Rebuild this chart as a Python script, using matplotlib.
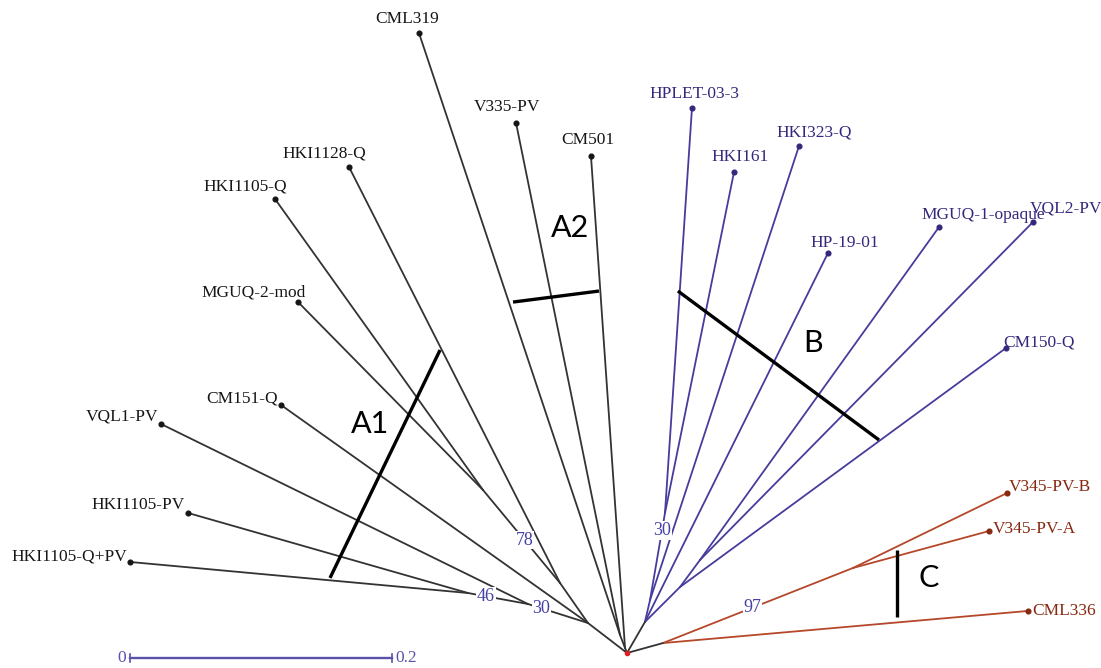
import matplotlib
matplotlib.use("Agg")
import matplotlib.pyplot as plt

# ---- tree data (coordinates in branch-length units, root at origin) ----
leaf_names = ["CML319", "V335-PV", "CM501", "HKI1128-Q", "HKI1105-Q", "MGUQ-2-mod",
              "CM151-Q", "VQL1-PV", "HKI1105-PV", "HKI1105-Q+PV",
              "HPLET-03-3", "HKI161", "HKI323-Q", "HP-19-01", "MGUQ-1-opaque", "VQL2-PV", "CM150-Q",
              "V345-PV-B", "V345-PV-A", "CML336"]
leaf_x = [-0.1588, -0.0847, -0.0275, -0.2122, -0.2687, -0.2511,
          -0.2641, -0.3557, -0.3351, -0.3794,
          0.0496, 0.0817, 0.1313, 0.1534, 0.2382, 0.3099, 0.2893,
          0.2901, 0.2763, 0.3061]
leaf_y = [0.4733, 0.4046, 0.3794, 0.3710, 0.3466, 0.2679,
          0.1893, 0.1748, 0.1069, 0.0695,
          0.4160, 0.3672, 0.3870, 0.3053, 0.3252, 0.3290, 0.2328,
          0.1221, 0.0931, 0.0321]
leaf_group = ["A", "A", "A", "A", "A", "A", "A", "A", "A", "A",
              "B", "B", "B", "B", "B", "B", "B",
              "C", "C", "C"]

node_names = ["root", "n46", "n30A", "nAa", "n78", "nX", "nA2a", "nA2",
              "n30B", "nB1", "nB3", "nB2", "nB", "nC1", "nC"]
node_x = [0.0, -0.1214, -0.0756, -0.1099, -0.0511, -0.0298, -0.0053, -0.0015,
          0.0290, 0.0176, 0.0557, 0.0405, 0.0137, 0.1725, 0.0275]
node_y = [0.0, 0.0458, 0.0374, 0.1244, 0.0534, 0.0229, 0.0137, 0.0038,
          0.1069, 0.0405, 0.0710, 0.0504, 0.0237, 0.0649, 0.0076]

# edges: (child, parent, group)
edges = [
    ("HKI1105-Q+PV", "n46", "A"), ("HKI1105-PV", "n46", "A"), ("n46", "n30A", "A"),
    ("VQL1-PV", "n30A", "A"), ("n30A", "nX", "A"), ("CM151-Q", "nX", "A"),
    ("HKI1105-Q", "nAa", "A"), ("MGUQ-2-mod", "nAa", "A"), ("nAa", "n78", "A"),
    ("HKI1128-Q", "n78", "A"), ("n78", "nX", "A"), ("nX", "root", "A"),
    ("CML319", "nA2a", "A"), ("V335-PV", "nA2a", "A"), ("nA2a", "nA2", "A"),
    ("CM501", "nA2", "A"), ("nA2", "root", "A"),
    ("HPLET-03-3", "n30B", "B"), ("HKI161", "n30B", "B"), ("n30B", "nB1", "B"),
    ("HKI323-Q", "nB1", "B"), ("nB1", "nB", "B"), ("HP-19-01", "nB", "B"),
    ("MGUQ-1-opaque", "nB3", "B"), ("VQL2-PV", "nB3", "B"), ("nB3", "nB2", "B"),
    ("CM150-Q", "nB2", "B"), ("nB2", "nB", "B"), ("nB", "root", "A"),
    ("V345-PV-B", "nC1", "C"), ("V345-PV-A", "nC1", "C"), ("nC1", "nC", "C"),
    ("CML336", "nC", "C"), ("nC", "root", "A"),
]

# bootstrap values: (value, child node, parent node, fraction along branch)
boot_values = [78, 46, 30, 30, 97]
boot_child = ["nAa", "n46", "n30A", "n30B", "nC1"]
boot_parent = ["n78", "n30A", "nX", "nB1", "nC"]
boot_frac = [0.54, 0.30, 0.22, 0.20, 0.53]

# label offsets (pixels) and alignment per leaf
label_dx = [-12, -9, -3, -25, -30, -44, -3, -3, -3, -3,
            2, 6, 15, 17, -18, -3, -3, 2, 4, 4]
label_dy = [14, 16, 16, 13, 12, 10, 7, 8, 8, 5,
            14, 15, 14, 10, 12, 14, 6, 6, 2, 0]
label_ha = ["center"] * 6 + ["right"] * 4 + ["center"] * 4 + ["left"] * 6

# clade markers
clade_names = ["A1", "A2", "B", "C"]
clade_bar_x = [(-0.2267, -0.1427), (-0.0870, -0.0214), (0.0389, 0.1924), (0.2061, 0.2061)]
clade_bar_y = [(0.0573, 0.2313), (0.2679, 0.2763), (0.2763, 0.1626), (0.0786, 0.0275)]
clade_lab_x = [-0.1962, -0.0435, 0.1420, 0.2305]
clade_lab_y = [0.1748, 0.3244, 0.2366, 0.0573]

scale_len = 0.2
scale_x0, scale_y0 = -0.3794, -0.0038

line_col = {"A": "#333333", "B": "#463c9c", "C": "#b5472a"}
text_col = {"A": "#161616", "B": "#35277c", "C": "#862810"}
boot_col = "#4540a6"

pos = {}
for n, x, y in zip(leaf_names, leaf_x, leaf_y):
    pos[n] = (x, y)
for n, x, y in zip(node_names, node_x, node_y):
    pos[n] = (x, y)

fig = plt.figure(figsize=(11.01, 6.68), dpi=100)
ax = fig.add_axes([0, 0, 1, 1])
k = 1310.0
ax.set_xlim(-627 / k, (1101 - 627) / k)
ax.set_ylim((653 - 668) / k, 653 / k)
ax.axis("off")

serif = ["Liberation Serif", "DejaVu Serif"]

for c, p, g in edges:
    (x1, y1), (x2, y2) = pos[c], pos[p]
    ax.plot([x1, x2], [y1, y2], color=line_col[g], lw=1.3, solid_capstyle="round", zorder=2)

for n, g, dx, dy, ha in zip(leaf_names, leaf_group, label_dx, label_dy, label_ha):
    x, y = pos[n]
    ax.plot([x], [y], "o", ms=3.4, color=text_col[g], zorder=4)
    va = "center"
    if n == "MGUQ-1-opaque":
        ha = "left"
    ax.annotate(n, (x, y), xytext=(dx, dy), textcoords="offset pixels",
                ha=ha, va=va, fontsize=12.5, family=serif, color=text_col[g], zorder=5)

for v, c, p, f in zip(boot_values, boot_child, boot_parent, boot_frac):
    (x1, y1), (x2, y2) = pos[c], pos[p]
    bx, by = x1 + (x2 - x1) * f, y1 + (y2 - y1) * f
    ax.text(bx, by, str(v), ha="center", va="center", fontsize=13, family=serif,
            color=boot_col, zorder=6,
            bbox=dict(facecolor="white", edgecolor="none", pad=0.5))

ax.plot([0], [0], "o", ms=3, color="#e02020", zorder=7)

for name, bxs, bys, lx, ly in zip(clade_names, clade_bar_x, clade_bar_y, clade_lab_x, clade_lab_y):
    ax.plot(bxs, bys, color="black", lw=2.4, zorder=3, solid_capstyle="butt")
    ax.text(lx, ly, name, ha="center", va="center", fontsize=22,
            family=["Lato", "DejaVu Sans"], color="black", zorder=6)

# scale bar
sc = "#5a52a8"
ax.plot([scale_x0, scale_x0 + scale_len], [scale_y0, scale_y0], color=sc, lw=1.7, zorder=3)
for xx in (scale_x0, scale_x0 + scale_len):
    ax.plot([xx, xx], [scale_y0 - 0.003, scale_y0 + 0.003], color=sc, lw=1.2)
ax.annotate("0", (scale_x0, scale_y0), xytext=(-4, 0), textcoords="offset pixels",
            ha="right", va="center", fontsize=12.5, family=serif, color=sc)
ax.annotate(str(scale_len), (scale_x0 + scale_len, scale_y0), xytext=(3, 0),
            textcoords="offset pixels", ha="left", va="center", fontsize=12.5,
            family=serif, color=sc)

fig.savefig("out.png", dpi=100, facecolor="white")
